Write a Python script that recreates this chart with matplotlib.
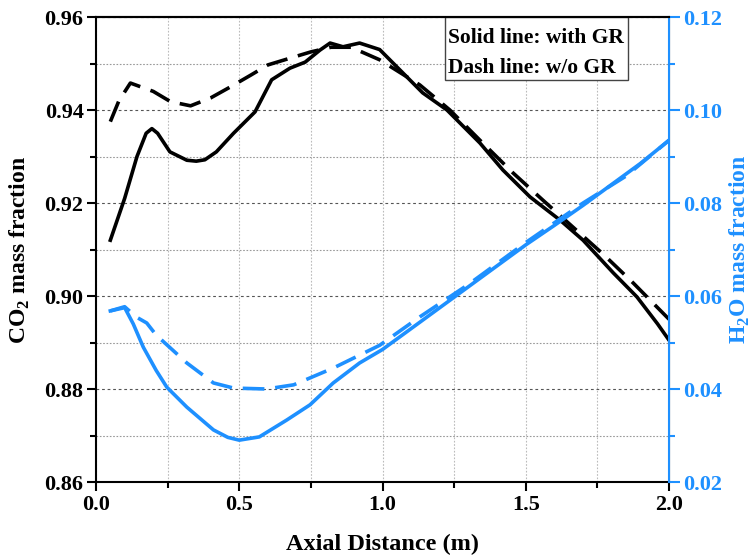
import matplotlib
matplotlib.use('Agg')
import numpy as np
import matplotlib.pyplot as plt
from matplotlib.ticker import MultipleLocator
from matplotlib.patches import Rectangle

plt.rcParams.update({'font.family': 'Liberation Serif', 'font.weight': 'bold',
                     'axes.labelweight': 'bold'})

BLUE = '#1E90FF'

# CO2 mass fraction, with GR (solid) and without GR (dash)
x_co2_gr = [0.05, 0.10, 0.143, 0.175, 0.195, 0.215, 0.258, 0.317, 0.35, 0.38, 0.42, 0.48, 0.555,
            0.613, 0.677, 0.73, 0.782, 0.817, 0.862, 0.92, 0.99, 1.14, 1.225, 1.34,
            1.42, 1.515, 1.62, 1.70, 1.805, 1.888, 1.96, 2.0]
co2_gr = [0.912, 0.921, 0.930, 0.935, 0.936, 0.935, 0.931, 0.9292, 0.929, 0.9293, 0.931, 0.935, 0.9396,
          0.9465, 0.949, 0.9503, 0.9529, 0.9544, 0.9536, 0.9544, 0.953, 0.9437, 0.940, 0.9329,
          0.9271, 0.9213, 0.9163, 0.912, 0.905, 0.8998, 0.894, 0.8905]

x_co2_nogr = [0.05, 0.08, 0.12, 0.20, 0.26, 0.33, 0.40, 0.47, 0.54, 0.60, 0.68, 0.75,
              0.82, 0.89, 0.99, 1.13, 1.235, 1.34, 1.455, 1.56, 1.665, 1.77, 1.875, 2.0]
co2_nogr = [0.9375, 0.942, 0.9458, 0.944, 0.9418, 0.9409, 0.9426, 0.945, 0.9475, 0.9497,
            0.9512, 0.9525, 0.9535, 0.9535, 0.9508, 0.9454, 0.940, 0.9335, 0.9265, 0.9206,
            0.9148, 0.909, 0.9028, 0.895]

# H2O mass fraction
x_h2o_gr = [0.05, 0.10, 0.13, 0.165, 0.21, 0.247, 0.317, 0.41, 0.46, 0.50, 0.57, 0.665, 0.747,
            0.828, 0.92, 1.0, 1.1, 1.2, 1.3, 1.4, 1.5, 1.6, 1.7, 1.8, 1.9, 2.0]
h2o_gr = [0.0568, 0.0575, 0.054, 0.049, 0.044, 0.0404, 0.0361, 0.0312, 0.0296, 0.029, 0.0297,
          0.0333, 0.0366, 0.0413, 0.0456, 0.0485, 0.053, 0.0575, 0.062, 0.0665, 0.071,
          0.0752, 0.0795, 0.084, 0.0885, 0.0935]

x_h2o_nogr = [0.05, 0.10, 0.14, 0.177, 0.21, 0.317, 0.41, 0.48, 0.595, 0.69, 0.828, 0.99,
              1.13, 1.3, 1.5, 1.7, 1.85, 2.0]
h2o_nogr = [0.0568, 0.0577, 0.0555, 0.0542, 0.0516, 0.0456, 0.0413, 0.0402, 0.040, 0.0409,
            0.0445, 0.0494, 0.0555, 0.0625, 0.0715, 0.080, 0.0858, 0.0935]

fig = plt.figure(figsize=(7.53, 5.58), dpi=100)
ax = fig.add_axes([0.1275, 0.1362, 0.761, 0.8333])
ax2 = ax.twinx()

dash = (6.0, 3.0)
ax.plot(x_co2_gr, co2_gr, color='k', lw=2.6, zorder=3, solid_joinstyle='round')
ax.plot(x_co2_nogr, co2_nogr, color='k', lw=2.6, dashes=dash, zorder=3)
ax2.plot(x_h2o_gr, h2o_gr, color=BLUE, lw=2.6, solid_joinstyle='round')
ax2.plot(x_h2o_nogr, h2o_nogr, color=BLUE, lw=2.6, dashes=dash)

ax.set_xlim(0, 2.0)
ax.set_ylim(0.86, 0.96)
ax2.set_ylim(0.02, 0.12)

ax.xaxis.set_major_locator(MultipleLocator(0.5))
ax.xaxis.set_minor_locator(MultipleLocator(0.25))
ax.yaxis.set_major_locator(MultipleLocator(0.02))
ax.yaxis.set_minor_locator(MultipleLocator(0.01))
ax2.yaxis.set_major_locator(MultipleLocator(0.02))
ax2.yaxis.set_minor_locator(MultipleLocator(0.01))

ax.xaxis.set_major_formatter(lambda v, p: f'{v:.1f}')
ax.yaxis.set_major_formatter(lambda v, p: f'{v:.2f}')
ax2.yaxis.set_major_formatter(lambda v, p: f'{v:.2f}')

ax.grid(True, which='major', axis='y', color='#555555', ls=(0, (2.5, 2.5)), lw=0.8)
ax.grid(True, which='minor', axis='y', color='#999999', ls=(0, (1.5, 1.5)), lw=0.8)
ax.grid(True, which='both', axis='x', color='#bbbbbb', ls=(0, (1.5, 1.5)), lw=0.8)
ax.set_axisbelow(True)

ax.tick_params(axis='both', which='major', direction='out', length=6.5, width=1.5,
               labelsize=16, pad=2.5)
ax.tick_params(axis='both', which='minor', direction='out', length=4, width=1.5)
ax2.tick_params(axis='y', which='major', direction='out', length=8, width=1.5,
                labelsize=16, colors=BLUE, pad=2.5)
ax2.tick_params(axis='y', which='minor', direction='out', length=4, width=1.5, colors=BLUE)
for lab in ax.get_xticklabels() + ax.get_yticklabels() + ax2.get_yticklabels():
    lab.set_fontweight('bold')

for sp in ['left', 'bottom', 'top']:
    ax.spines[sp].set_linewidth(1.5)
ax2.spines['right'].set_color(BLUE)
ax2.spines['right'].set_linewidth(1.5)
ax2.spines['left'].set_visible(False)
ax2.spines['top'].set_linewidth(1.5)
ax2.spines['bottom'].set_visible(False)

ax.set_xlabel('Axial Distance (m)', fontsize=17.5, fontweight='bold', labelpad=14)
ax.set_ylabel(r'CO$_\mathregular{2}$ mass fraction', fontsize=17, fontweight='bold', labelpad=9)
ax2.set_ylabel(r'H$_\mathregular{2}$O mass fraction', fontsize=17, fontweight='bold',
               color=BLUE, labelpad=4)

# annotation box
ax.add_patch(Rectangle((0.609, 0.8645), 0.319, 0.1355, transform=ax.transAxes,
                       fc='white', ec='#444444', lw=1.0, zorder=5))
ax.text(0.6143, 0.944, 'Solid line: with GR', transform=ax.transAxes, ha='left',
        va='baseline', fontsize=15.5, fontweight='bold', zorder=6)
ax.text(0.6143, 0.8796, 'Dash line: w/o GR', transform=ax.transAxes, ha='left',
        va='baseline', fontsize=15.5, fontweight='bold', zorder=6)

fig.savefig('out.png', dpi=100)
